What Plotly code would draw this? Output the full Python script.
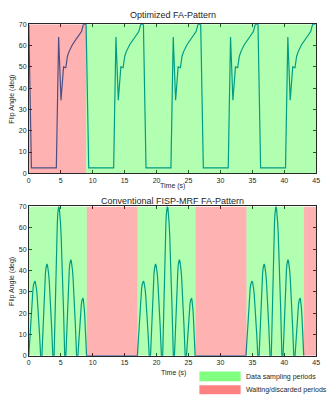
import plotly.graph_objects as go

# ---------------- data ----------------
# Optimized FA-pattern: one acquisition cycle (time relative to cycle start, s) and flip angles (deg)
opt_cycle_t = [0.0, 0.41, 4.31, 4.67, 5.04, 5.44, 5.79, 6.05, 6.31, 6.82, 7.33, 7.85, 8.25, 8.55, 8.97]
opt_cycle_fa = [70, 2.5, 2.5, 64, 34.3, 50, 49.6, 55, 57.3, 60.4, 62.7, 64.7, 66.6, 70, 70]
opt_cycle_starts = [0.0, 8.97, 17.94, 26.91, 35.88]
opt_red_periods = [(0.0, 8.97)]
opt_green_periods = [(8.97, 45.0)]

# Conventional FISP-MRF: lobes within one segment (relative times, s) and peak flip angles (deg)
conv_lobe_start = [0.0, 2.05, 3.96, 5.80, 7.68]
conv_lobe_peak_t = [0.93, 2.83, 4.68, 6.56, 8.46]
conv_lobe_end = [1.85, 3.76, 5.62, 7.48, 9.04]
conv_lobe_peak_fa = [35, 43, 70, 45, 27]
conv_segment_starts = [0.0, 17.0, 34.0]
conv_green_periods = [(0.0, 9.07), (17.02, 26.09), (34.08, 43.05)]
conv_red_periods = [(9.07, 17.02), (26.09, 34.08), (43.05, 45.0)]

# half-lobe profile (fraction of half-width from zero, fraction of peak)
lobe_profile_u = [0, 0.05, 0.1, 0.2, 0.3, 0.4, 0.5, 0.6, 0.7, 0.8, 0.9, 1.0]
lobe_profile_h = [0, 0.078, 0.156, 0.309, 0.454, 0.588, 0.707, 0.809, 0.891, 0.951, 0.988, 1.0]

x_ticks = [0, 5, 10, 15, 20, 25, 30, 35, 40, 45]
y_ticks = [0, 10, 20, 30, 40, 50, 60, 70]
legend_labels = ["Data sampling periods", "Waiting/discarded periods"]

# ---------------- build series ----------------
opt_t, opt_fa = [], []
for s in opt_cycle_starts:
    for t, a in zip(opt_cycle_t, opt_cycle_fa):
        opt_t.append(s + t)
        opt_fa.append(a)

conv_t, conv_fa = [], []
for s in conv_segment_starts:
    for st, pk, en, amp in zip(conv_lobe_start, conv_lobe_peak_t, conv_lobe_end, conv_lobe_peak_fa):
        for u, h in zip(lobe_profile_u, lobe_profile_h):
            conv_t.append(s + st + u * (pk - st))
            conv_fa.append(amp * h)
        for u, h in zip(lobe_profile_u[::-1][1:], lobe_profile_h[::-1][1:]):
            conv_t.append(s + pk + (1 - u) * (en - pk))
            conv_fa.append(amp * h)

LINE = "#0072BD"
TXT = "#262626"
FONT = "Liberation Sans, Arial, sans-serif"

fig = go.Figure()
fig.add_trace(go.Scatter(x=opt_t, y=opt_fa, mode="lines", line=dict(color=LINE, width=1.2),
                         xaxis="x", yaxis="y", showlegend=False, hoverinfo="skip"))
fig.add_trace(go.Scatter(x=conv_t, y=conv_fa, mode="lines", line=dict(color=LINE, width=1.2),
                         xaxis="x2", yaxis="y2", showlegend=False, hoverinfo="skip"))

shapes = []
def add_periods(periods, color, xr, yr):
    for x0, x1 in periods:
        shapes.append(dict(type="rect", xref=xr, yref=yr, x0=x0, x1=x1, y0=0, y1=70,
                           fillcolor=color, opacity=0.3, line=dict(width=0), layer="above"))

add_periods(opt_red_periods, "#ff0000", "x", "y")
add_periods(opt_green_periods, "#00ff00", "x", "y")
add_periods(conv_green_periods, "#00ff00", "x2", "y2")
add_periods(conv_red_periods, "#ff0000", "x2", "y2")

# legend boxes
W, H = 334, 400
def px(x): return x / W
def py(y): return 1 - y / H
shapes.append(dict(type="rect", xref="paper", yref="paper", x0=px(201), x1=px(243),
                   y0=py(384), y1=py(374), fillcolor="#80ff80", line=dict(width=0)))
shapes.append(dict(type="rect", xref="paper", yref="paper", x0=px(201), x1=px(243),
                   y0=py(397.3), y1=py(388), fillcolor="#ff8080", line=dict(width=0)))

axis_common = dict(showgrid=False, zeroline=False, showline=True, linecolor=TXT,
                   linewidth=0.7, mirror="ticks", ticks="inside", ticklen=3, tickwidth=0.7,
                   tickcolor=TXT, tickfont=dict(size=7, color=TXT, family=FONT))

xdom = [px(27.3), px(320)]
fig.update_layout(
    width=W, height=H, autosize=False,
    margin=dict(l=0, r=0, t=0, b=0),
    paper_bgcolor="white", plot_bgcolor="white",
    font=dict(family=FONT, color=TXT),
    xaxis=dict(axis_common, domain=xdom, anchor="y", range=[0, 45], tickvals=x_ticks),
    yaxis=dict(axis_common, domain=[py(172.3), py(20.7)], anchor="x", range=[0, 70], tickvals=y_ticks),
    xaxis2=dict(axis_common, domain=xdom, anchor="y2", range=[0, 45], tickvals=x_ticks),
    yaxis2=dict(axis_common, domain=[py(358), py(206)], anchor="x2", range=[0, 70], tickvals=y_ticks),
    shapes=shapes,
    showlegend=False,
)

ann = []
def text(x, y, s, size, angle=0, xanchor="center"):
    ann.append(dict(xref="paper", yref="paper", x=px(x), y=py(y), text=s, showarrow=False,
                    font=dict(size=size, color=TXT, family=FONT), textangle=angle,
                    xanchor=xanchor, yanchor="middle"))

text(174, 10.7, "Optimized FA-Pattern", 9)
text(174, 185.5, "Time (s)", 7)
text(10, 96.5, "Flip Angle (deg)", 7, angle=-90)
text(174, 200, "Conventional FISP-MRF FA-Pattern", 9)
text(174.3, 376, "Time (s)", 7)
text(10, 282, "Flip Angle (deg)", 7, angle=-90)
text(246, 379.3, legend_labels[0], 7, xanchor="left")
text(246, 393.3, legend_labels[1], 7, xanchor="left")
fig.update_layout(annotations=ann)

fig.write_html(
    "out.html",
    config={"displayModeBar": False},
    post_script="document.body.style.margin='0';document.body.style.overflow='hidden';",
)
